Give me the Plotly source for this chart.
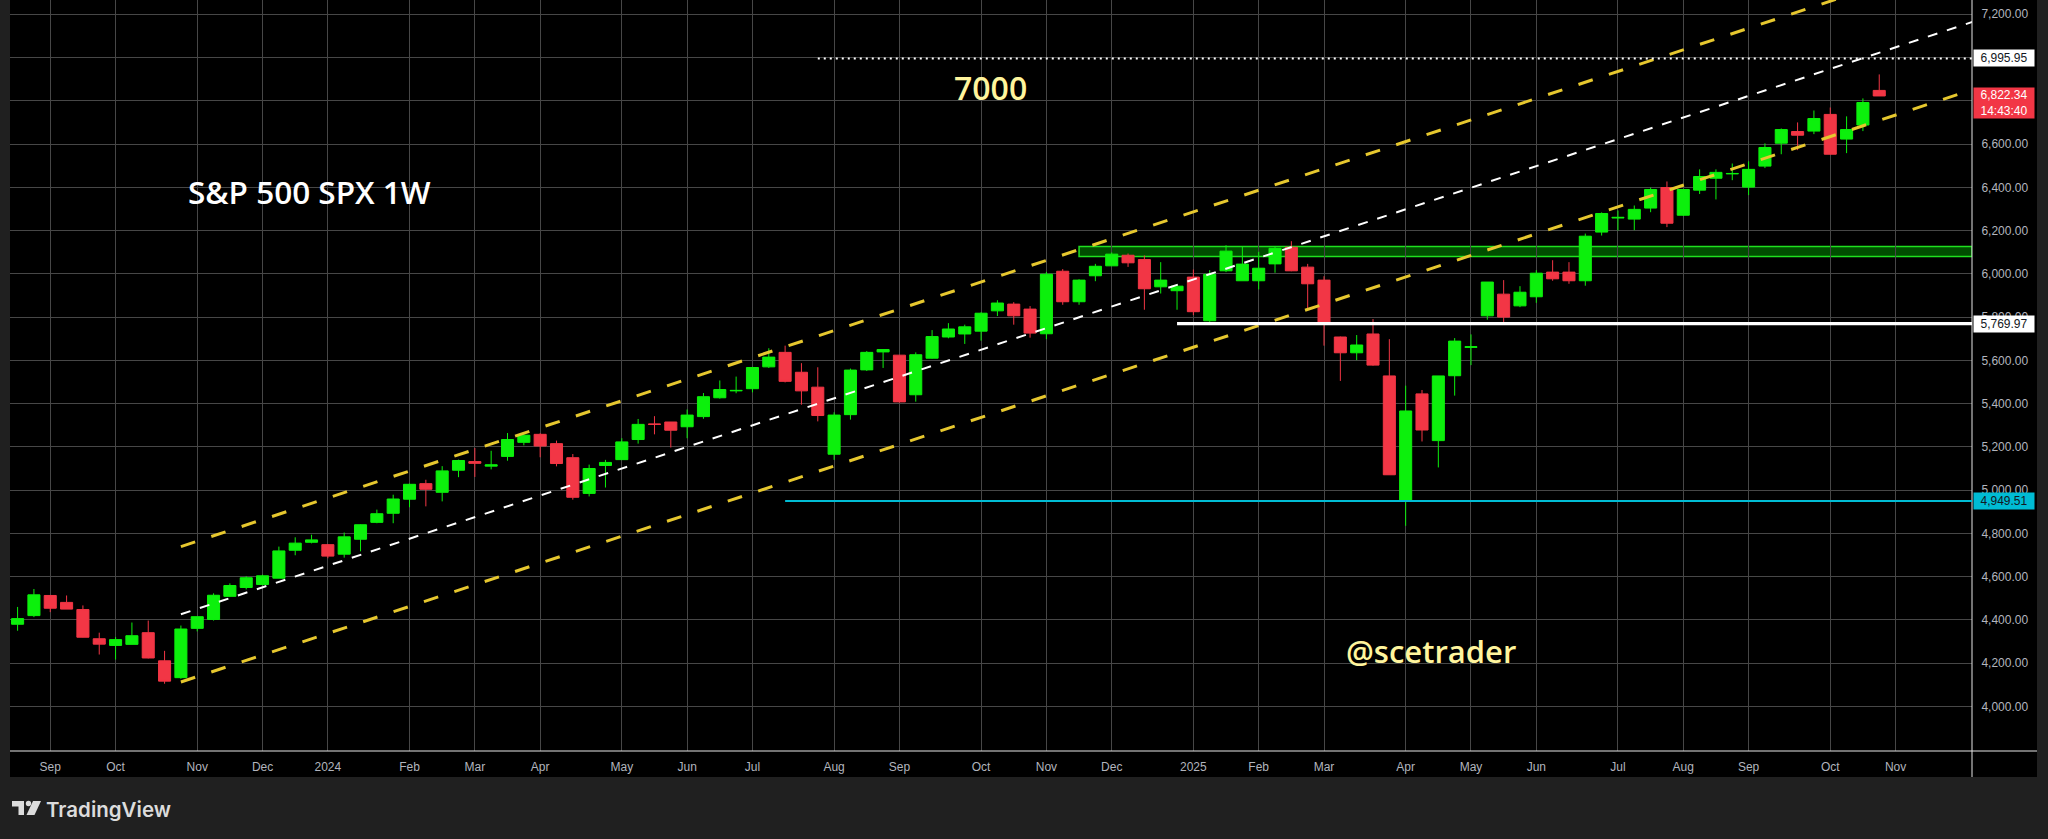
import pandas as pd
import plotly.graph_objects as go

# ---------------- data ----------------
week_start = "2023-08-21"

opens = [4380, 4420, 4513, 4481, 4448, 4313, 4282, 4287, 4341, 4211,
         4133, 4361, 4402, 4509, 4550, 4564, 4593, 4722, 4759, 4748,
         4704, 4773, 4851, 4893, 4958, 5030, 4990, 5092, 5132, 5111,
         5156, 5221, 5258, 5215, 5150, 4985, 5114, 5141, 5234, 5306,
         5315, 5293, 5340, 5427, 5459, 5469, 5570, 5637, 5545, 5476,
         5166, 5349, 5556, 5639, 5624, 5441, 5610, 5708, 5722, 5735,
         5829, 5860, 5837, 5723, 6012, 5871, 5991, 6037, 6086, 6066,
         5940, 5922, 5985, 5783, 6014, 5968, 5968, 6046, 6123, 6031,
         5971, 5708, 5635, 5722, 5528, 4951, 5445, 5229, 5529, 5660,
         5806, 5906, 5852, 5894, 6008, 6008, 5968, 6193, 6258, 6253,
         6304, 6399, 6271, 6387, 6442, 6462, 6401, 6498, 6604, 6658,
         6660, 6737, 6623, 6688, 6848]

highs = [4460, 4543, 4515, 4513, 4467, 4341, 4321, 4388, 4397, 4257,
         4374, 4415, 4523, 4569, 4602, 4609, 4739, 4782, 4794, 4750,
         4804, 4842, 4910, 4979, 5030, 5048, 5111, 5141, 5195, 5182,
         5264, 5264, 5263, 5229, 5167, 5118, 5140, 5240, 5329, 5342,
         5315, 5373, 5449, 5507, 5525, 5570, 5656, 5668, 5587, 5568,
         5360, 5562, 5643, 5651, 5624, 5637, 5740, 5772, 5765, 5822,
         5878, 5869, 5851, 6009, 6022, 5975, 6046, 6099, 6094, 6085,
         6054, 5951, 6020, 6017, 6132, 6125, 6102, 6125, 6151, 6046,
         5989, 5710, 5717, 5791, 5698, 5483, 5463, 5528, 5703, 5720,
         5962, 5971, 5943, 6017, 6063, 6054, 6186, 6284, 6293, 6316,
         6399, 6427, 6392, 6483, 6483, 6510, 6520, 6603, 6672, 6700,
         6755, 6769, 6728, 6811, 6922]

lows = [4350, 4413, 4436, 4450, 4319, 4240, 4217, 4287, 4222, 4105,
        4128, 4347, 4397, 4507, 4541, 4560, 4593, 4699, 4754, 4685,
        4688, 4717, 4847, 4847, 4921, 4925, 4948, 5060, 5061, 5096,
        5136, 5207, 5152, 5110, 4956, 4971, 5012, 5141, 5215, 5258,
        5197, 5240, 5330, 5423, 5448, 5452, 5565, 5498, 5395, 5318,
        5140, 5326, 5551, 5565, 5405, 5409, 5608, 5702, 5676, 5691,
        5805, 5765, 5705, 5698, 5857, 5857, 5966, 6037, 6032, 5834,
        5909, 5834, 5809, 5777, 6008, 5968, 5928, 6005, 6012, 5841,
        5668, 5505, 5601, 5575, 5071, 4835, 5225, 5105, 5437, 5578,
        5788, 5769, 5846, 5866, 5968, 5954, 5945, 6177, 6201, 6202,
        6285, 6216, 6268, 6369, 6344, 6433, 6364, 6489, 6553, 6572,
        6646, 6553, 6558, 6660, 6822]

closes = [4406, 4516, 4454, 4450, 4320, 4288, 4309, 4327, 4224, 4117,
          4358, 4415, 4514, 4559, 4595, 4604, 4719, 4755, 4770, 4695,
          4784, 4840, 4891, 4959, 5027, 5004, 5089, 5137, 5124, 5117,
          5234, 5254, 5204, 5123, 4967, 5100, 5128, 5223, 5304, 5304,
          5277, 5347, 5432, 5465, 5461, 5567, 5615, 5503, 5459, 5345,
          5347, 5555, 5637, 5650, 5408, 5626, 5710, 5745, 5755, 5818,
          5865, 5806, 5726, 5998, 5871, 5971, 6035, 6091, 6051, 5931,
          5971, 5943, 5825, 5998, 6105, 6045, 6026, 6118, 6014, 5954,
          5769, 5635, 5671, 5578, 5071, 5366, 5278, 5528, 5689, 5663,
          5962, 5800, 5915, 6003, 5977, 5968, 6174, 6279, 6261, 6298,
          6390, 6234, 6390, 6450, 6469, 6464, 6483, 6584, 6667, 6641,
          6718, 6553, 6667, 6792, 6822.34]

month_tick_dates = ["2023-09-04", "2023-10-02", "2023-11-06", "2023-12-04", "2024-01-01",
                    "2024-02-05", "2024-03-04", "2024-04-01", "2024-05-06", "2024-06-03",
                    "2024-07-01", "2024-08-05", "2024-09-02", "2024-10-07", "2024-11-04",
                    "2024-12-02", "2025-01-06", "2025-02-03", "2025-03-03", "2025-04-07",
                    "2025-05-05", "2025-06-02", "2025-07-07", "2025-08-04", "2025-09-01",
                    "2025-10-06", "2025-11-03"]
month_tick_labels = ["Sep", "Oct", "Nov", "Dec", "2024", "Feb", "Mar", "Apr", "May", "Jun",
                     "Jul", "Aug", "Sep", "Oct", "Nov", "Dec", "2025", "Feb", "Mar", "Apr",
                     "May", "Jun", "Jul", "Aug", "Sep", "Oct", "Nov"]

price_ticks = list(range(4000, 7201, 200))
hidden_price_ticks = [6800, 7000]   # covered by the price boxes on the axis

# trend channel (mid line anchors + half width)
channel_anchor_dates = ["2023-10-30", "2025-06-30"]
channel_anchor_mid = [4426, 6600]
channel_half_width = 313

# horizontal levels
level_prices = [6995.95, 5769.97, 4949.51]
level_start_dates = ["2024-07-29", "2024-12-30", "2024-07-15"]

# support zone
zone_prices = [6080, 6126]
zone_start_date = "2024-11-18"

countdown_text = "14:43:40"
title_text = "S&P 500 SPX 1W"
target_text = "7000"
handle_text = "@scetrader"
brand_text = "TradingView"

# ---------------- styling / geometry ----------------
W, H = 2048, 839
PL, PR, PT, PB = 10, 1972, 0, 751
GREEN = "#0cf00c"
RED = "#f23645"
GRID = "#474747"
AXIS_TXT = "#b2b5be"
BORDER = "#202020"
YELLOW_LINE = "#e6c72e"
PALE = "#fff59d"
CYAN = "#00bcd4"


def xp(px):
    return (px - PL) / (PR - PL)


def yp(py):
    return (PB - py) / (PB - PT)


dates = pd.date_range(week_start, periods=len(opens), freq="7D")
d0 = dates[0]
week = pd.Timedelta(days=7)
x_left = d0 - 0.465 * week
x_right = d0 + 119.68 * week
y_range = [3794, 7266]

fig = go.Figure()

fig.add_trace(go.Candlestick(
    x=dates, open=opens, high=highs, low=lows, close=closes,
    increasing=dict(line=dict(color=GREEN, width=1), fillcolor=GREEN),
    decreasing=dict(line=dict(color=RED, width=1), fillcolor=RED),
    whiskerwidth=0, showlegend=False, hoverinfo="skip",
))

# channel lines
ca = pd.Timestamp(channel_anchor_dates[0])
cb = pd.Timestamp(channel_anchor_dates[1])
slope = (channel_anchor_mid[1] - channel_anchor_mid[0]) / ((cb - ca).days)
x_end = x_right + 2 * week
mid_end = channel_anchor_mid[0] + slope * (x_end - ca).days
for off, col, wdt, dash in [(channel_half_width, YELLOW_LINE, 3, "15px,17px"),
                            (0, "#ffffff", 2, "10px,10px"),
                            (-channel_half_width, YELLOW_LINE, 3, "15px,17px")]:
    fig.add_trace(go.Scatter(
        x=[ca, x_end], y=[channel_anchor_mid[0] + off, mid_end + off],
        mode="lines", line=dict(color=col, width=wdt, dash=dash),
        showlegend=False, hoverinfo="skip",
    ))

shapes = []
# outer gray strips
for (a, b, c, d) in [(0, PL, 0, H), (2037, W, 0, H), (0, W, 777, H)]:
    shapes.append(dict(type="rect", xref="paper", yref="paper",
                       x0=xp(a), x1=xp(b), y0=yp(d), y1=yp(c),
                       fillcolor=BORDER, line=dict(width=0), layer="below"))
# axis separators
shapes.append(dict(type="line", xref="paper", yref="paper", x0=xp(PL), x1=xp(2037),
                   y0=yp(PB), y1=yp(PB), line=dict(color="#e6e6e6", width=1), layer="above"))
shapes.append(dict(type="line", xref="paper", yref="paper", x0=xp(PR), x1=xp(PR),
                   y0=yp(0), y1=yp(777), line=dict(color="#e6e6e6", width=1), layer="above"))

# zone
shapes.append(dict(type="rect", xref="x", yref="y", x0=zone_start_date, x1=x_right,
                   y0=zone_prices[0], y1=zone_prices[1], fillcolor="rgba(0,255,0,0.30)",
                   line=dict(color="#1fe01f", width=1.5), layer="below"))
# levels
level_styles = [dict(color="#ffffff", width=2, dash="2px,4px"),
                dict(color="#ffffff", width=3.3),
                dict(color=CYAN, width=2)]
for price, start, st in zip(level_prices, level_start_dates, level_styles):
    shapes.append(dict(type="line", xref="x", yref="y", x0=start, x1=x_right,
                       y0=price, y1=price, line=st, layer="above"))

# TradingView logo icon
def path(points):
    return "M " + " L ".join(f"{xp(a)},{yp(b)}" for a, b in points) + " Z"

LOGO = "#dcdcdc"
shapes.append(dict(type="path", xref="paper", yref="paper",
                   path=path([(12, 801), (24, 801), (24, 815), (18.5, 815), (18.5, 806.5), (12, 806.5)]),
                   fillcolor=LOGO, line=dict(width=0), layer="above"))
shapes.append(dict(type="circle", xref="paper", yref="paper",
                   x0=xp(25.8), x1=xp(31.2), y0=yp(806.2), y1=yp(800.8),
                   fillcolor=LOGO, line=dict(width=0), layer="above"))
shapes.append(dict(type="path", xref="paper", yref="paper",
                   path=path([(33, 801), (41, 801), (34.5, 815), (26.5, 815)]),
                   fillcolor=LOGO, line=dict(width=0), layer="above"))

annotations = []
AX_FONT = "Liberation Sans"


def axis_box(price, text, bg, fg, height=14, yanchor="middle", yshift=0):
    return dict(xref="paper", x=xp(PR + 1), xanchor="left", yref="y", y=price,
                yanchor=yanchor, yshift=yshift, text=text, showarrow=False,
                bgcolor=bg, font=dict(color=fg, size=12, family=AX_FONT),
                width=58, height=height, borderpad=1, align="center")


annotations.append(axis_box(level_prices[0], f"{level_prices[0]:,.2f}", "#ffffff", "#131722"))
annotations.append(axis_box(level_prices[1], f"{level_prices[1]:,.2f}", "#ffffff", "#131722"))
annotations.append(axis_box(level_prices[2], f"{level_prices[2]:,.2f}", CYAN, "#131722"))
annotations.append(axis_box(closes[-1], f"{closes[-1]:,.2f}<br>{countdown_text}", RED, "#ffffff",
                            height=28, yanchor="top", yshift=9))

annotations.append(dict(xref="paper", yref="paper", x=xp(186), y=yp(192), xanchor="left",
                        yanchor="middle", text=title_text, showarrow=False,
                        font=dict(family="Open Sans", size=31.5, color="#ffffff", weight=600)))
annotations.append(dict(xref="paper", yref="paper", x=xp(952), y=yp(87), xanchor="left",
                        yanchor="middle", text=target_text, showarrow=False,
                        font=dict(family="Open Sans", size=32, color=PALE, weight=600)))
annotations.append(dict(xref="paper", yref="paper", x=xp(1344), y=yp(651), xanchor="left",
                        yanchor="middle", text=handle_text, showarrow=False,
                        font=dict(family="Open Sans", size=31, color=PALE, weight=600)))
annotations.append(dict(xref="paper", yref="paper", x=xp(44), y=yp(809), xanchor="left",
                        yanchor="middle", text=brand_text, showarrow=False,
                        font=dict(family="Inter", size=20.5, color=LOGO, weight=600)))

fig.update_layout(
    width=W, height=H,
    margin=dict(l=PL, r=W - PR, t=PT, b=H - PB, pad=0),
    paper_bgcolor="#000000", plot_bgcolor="#000000",
    showlegend=False, boxgap=0.1, boxgroupgap=0.18,
    font=dict(family=AX_FONT, color=AXIS_TXT, size=12),
    shapes=shapes, annotations=annotations,
    xaxis=dict(type="date", range=[x_left, x_right], tickvals=month_tick_dates,
               ticktext=month_tick_labels, showgrid=True, gridcolor=GRID, gridwidth=1,
               ticks="outside", ticklen=5, tickcolor="rgba(0,0,0,0)", showline=False,
               zeroline=False, rangeslider=dict(visible=False), automargin=False,
               tickfont=dict(size=12, color=AXIS_TXT, family=AX_FONT), fixedrange=True),
    yaxis=dict(side="right", range=y_range, tickvals=price_ticks,
               ticktext=["" if v in hidden_price_ticks else f"{v:,.2f}" for v in price_ticks],
               showgrid=True, gridcolor=GRID,
               gridwidth=1, ticks="outside", ticklen=6, tickcolor="rgba(0,0,0,0)",
               showline=False, zeroline=False, automargin=False,
               tickfont=dict(size=12, color=AXIS_TXT, family=AX_FONT), fixedrange=True),
)

fig.write_html("out.html", config={"displayModeBar": False},
               post_script="document.body.style.margin='0';document.body.style.overflow='hidden';")
